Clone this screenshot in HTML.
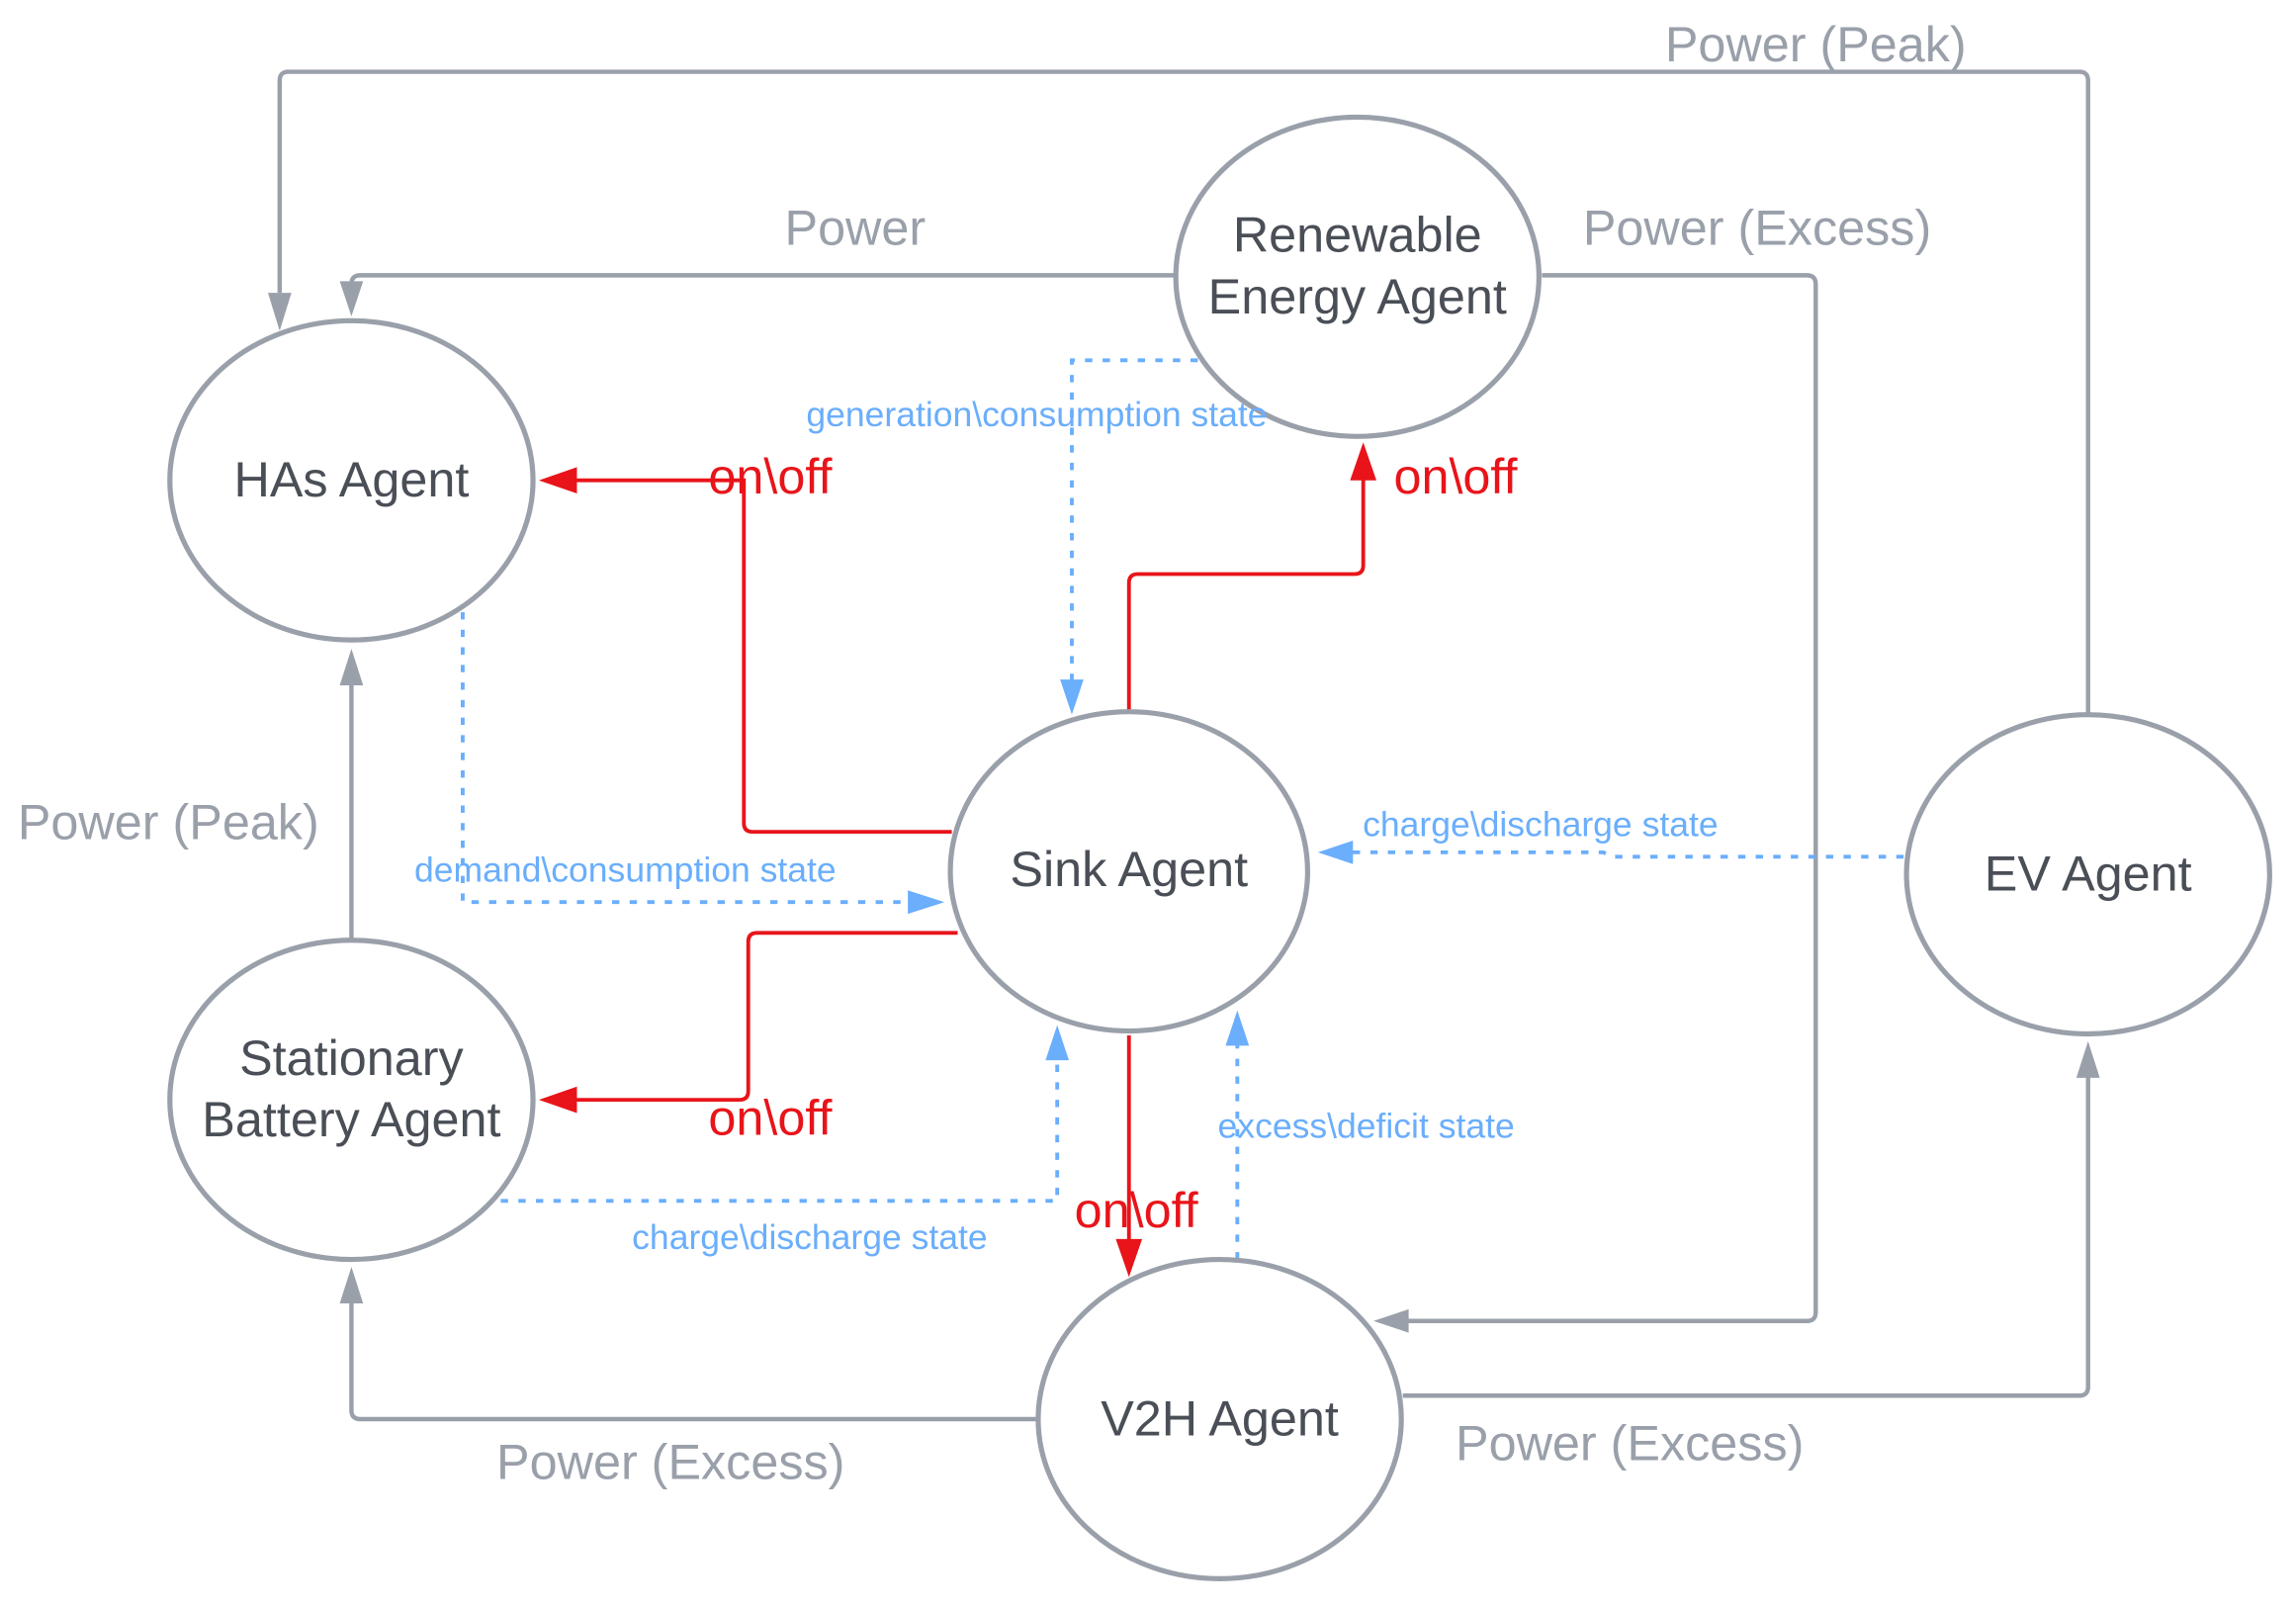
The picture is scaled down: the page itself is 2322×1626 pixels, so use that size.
<!DOCTYPE html>
<html><head><meta charset="utf-8"><style>
html,body{margin:0;padding:0;background:#fff;}
svg{display:block;}
text{font-family:"Liberation Sans",sans-serif;}
</style></head><body>
<svg width="2322" height="1626" viewBox="0 0 1568 1098" preserveAspectRatio="none" xmlns="http://www.w3.org/2000/svg">
<style>
.g{fill:none;stroke:#9aa0aa;stroke-width:3;}
.r{fill:none;stroke:#e8141a;stroke-width:2.6;}
.b{fill:none;stroke:#6aaefc;stroke-width:2.6;stroke-dasharray:5 7;}
.n{fill:#fff;stroke:#9aa0aa;stroke-width:3.5;}
</style>
<path class="g" d="M1426,487 V55 Q1426,49 1420,49 H197 Q191,49 191,55 V200" />
<path d="M183,200 L199,200 L191,226 z" fill="#9aa0aa"/>
<path class="g" d="M803,188 H246 Q240,188 240,194 V196"/>
<path d="M232,192 L248,192 L240,216 z" fill="#9aa0aa"/>
<path class="g" d="M1053,188 H1234 Q1240,188 1240,194 V896 Q1240,902 1234,902 H960"/>
<path d="M962,894 L962,910 L938,902 z" fill="#9aa0aa"/>
<path class="g" d="M240,641 V466"/>
<path d="M232,468 L248,468 L240,443 z" fill="#9aa0aa"/>
<path class="g" d="M708,969 H246 Q240,969 240,963 V888"/>
<path d="M232,890 L248,890 L240,865 z" fill="#9aa0aa"/>
<path class="g" d="M958,953 H1420 Q1426,953 1426,947 V734"/>
<path d="M1418,736 L1434,736 L1426,711 z" fill="#9aa0aa"/>
<path class="r" d="M650,568 H514 Q508,568 508,562 V328 H392"/>
<path d="M394,319 L394,337 L368,328 z" fill="#e8141a"/>
<path class="r" d="M771,485 V398 Q771,392 777,392 H925 Q931,392 931,386 V326"/>
<path d="M922,328 L940,328 L931,302 z" fill="#e8141a"/>
<path class="r" d="M654,637 H517 Q511,637 511,643 V745 Q511,751 505,751 H392"/>
<path d="M394,742 L394,760 L368,751 z" fill="#e8141a"/>
<path class="r" d="M771,707 V848"/>
<path d="M762,846 L780,846 L771,872 z" fill="#e8141a"/>
<path class="b" d="M818,246 H732 V466"/>
<path d="M724,464 L740,464 L732,488 z" fill="#6aaefc"/>
<path class="b" d="M316,418 V616 H622"/>
<path d="M620,608 L620,624 L645,616 z" fill="#6aaefc"/>
<path class="b" d="M342,820 H722 V722"/>
<path d="M714,724 L730,724 L722,700 z" fill="#6aaefc"/>
<path class="b" d="M845,860 V712"/>
<path d="M837,714 L853,714 L845,690 z" fill="#6aaefc"/>
<path class="b" d="M1300,585 H1100 L1095,582 H922"/>
<path d="M924,574 L924,590 L900,582 z" fill="#6aaefc"/>
<ellipse class="n" cx="240" cy="328" rx="124" ry="109"/>
<ellipse class="n" cx="927" cy="189" rx="124" ry="109"/>
<ellipse class="n" cx="771" cy="595" rx="122" ry="109"/>
<ellipse class="n" cx="1426" cy="597" rx="124" ry="109"/>
<ellipse class="n" cx="240" cy="751" rx="124" ry="109"/>
<ellipse class="n" cx="833" cy="969" rx="124" ry="109"/>
<g fill="#4a4f57" font-size="34" text-anchor="middle">
<text x="240" y="339">HAs Agent</text>
<text x="927" y="172">Renewable</text>
<text x="927" y="214">Energy Agent</text>
<text x="771" y="605">Sink Agent</text>
<text x="1426" y="608">EV Agent</text>
<text x="240" y="734">Stationary</text>
<text x="240" y="776">Battery Agent</text>
<text x="833" y="980">V2H Agent</text>
</g>
<g fill="#9aa0aa" font-size="34" text-anchor="middle">
<text x="1240" y="42">Power (Peak)</text>
<text x="584" y="167">Power</text>
<text x="1200" y="167">Power (Excess)</text>
<text x="115" y="573">Power (Peak)</text>
<text x="458" y="1010">Power (Excess)</text>
<text x="1113" y="997">Power (Excess)</text>
</g>
<g fill="#e8141a" font-size="34" text-anchor="middle">
<text x="526" y="337">on\off</text>
<text x="994" y="337">on\off</text>
<text x="526" y="775">on\off</text>
<text x="776" y="838">on\off</text>
</g>
<g fill="#6aaefc" font-size="24" text-anchor="middle">
<text x="708" y="291">generation\consumption state</text>
<text x="427" y="602">demand\consumption state</text>
<text x="553" y="853">charge\discharge state</text>
<text x="933" y="777">excess\deficit state</text>
<text x="1052" y="571">charge\discharge state</text>
</g>
</svg>
</body></html>
